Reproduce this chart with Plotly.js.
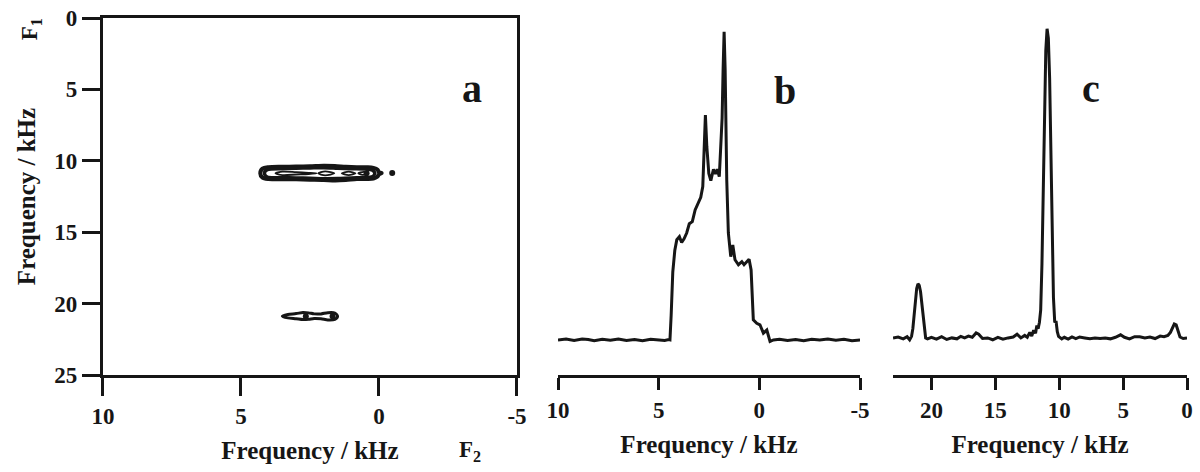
<!DOCTYPE html>
<html>
<head>
<meta charset="utf-8">
<script src="https://cdn.plot.ly/plotly-3.0.1.min.js"></script>
<style>
  html, body { margin: 0; padding: 0; background: #fff; }
  #chart { width: 1200px; height: 472px; }
</style>
</head>
<body>
<div id="chart"></div>
<script>
// ---- panel a: 2D contour map (F2 vs F1, kHz), outlines ----
const mainOuterF2 = [4.30, 4.22, 4.00, 3.50, 3.00, 2.50, 2.00, 1.60, 1.20, 0.80, 0.40, 0.20, 0.05, 0.00, -0.10, 0.00, 0.05, 0.20, 0.40, 0.80, 1.20, 1.60, 2.00, 2.50, 3.00, 3.50, 4.00, 4.22, 4.30];
const mainOuterF1 = [10.88, 10.55, 10.45, 10.42, 10.40, 10.38, 10.34, 10.36, 10.42, 10.45, 10.45, 10.50, 10.62, 10.80, 10.86, 10.94, 11.10, 11.24, 11.28, 11.28, 11.35, 11.38, 11.34, 11.32, 11.30, 11.30, 11.28, 11.18, 10.88];
const mainMidF2 = [4.15, 4.05, 3.50, 3.00, 2.50, 2.00, 1.50, 1.00, 0.50, 0.25, 0.15, 0.25, 0.50, 1.00, 1.50, 2.00, 2.50, 3.00, 3.50, 4.05, 4.15];
const mainMidF1 = [10.88, 10.62, 10.55, 10.52, 10.50, 10.48, 10.52, 10.56, 10.58, 10.65, 10.88, 11.12, 11.18, 11.20, 11.24, 11.25, 11.22, 11.20, 11.18, 11.14, 10.88];
const mainInnerF2 = [3.75, 3.50, 3.00, 2.55, 2.25, 2.55, 3.00, 3.50, 3.75];
const mainInnerF1 = [10.88, 10.76, 10.80, 10.84, 10.88, 10.93, 10.96, 11.00, 10.88];
const crossF2 = [2.20, 1.95, 1.62, 1.95, 2.20];
const crossF1 = [10.88, 10.74, 10.88, 11.02, 10.88];
const ringAF2 = [1.35, 1.10, 0.85, 1.10, 1.35];
const ringAF1 = [10.88, 10.76, 10.88, 11.00, 10.88];
const ringBF2 = [0.75, 0.55, 0.38, 0.55, 0.75];
const ringBF1 = [10.88, 10.77, 10.88, 10.99, 10.88];
const lowOuterF2 = [3.50, 3.30, 3.00, 2.75, 2.55, 2.35, 2.10, 1.85, 1.60, 1.50, 1.60, 1.85, 2.10, 2.35, 2.55, 2.75, 3.00, 3.30, 3.50];
const lowOuterF1 = [20.88, 20.76, 20.70, 20.62, 20.65, 20.72, 20.72, 20.64, 20.66, 20.88, 21.10, 21.14, 21.06, 21.04, 21.10, 21.12, 21.06, 21.00, 20.88];
const dotF2 = [-0.48, 0.45, 2.65, 1.68];
const dotF1 = [10.86, 10.88, 20.88, 20.88];

// ---- panel b: F2 projection ----
const bF2 = [10.0, 9.6, 9.2, 8.8, 8.5, 8.2, 7.8, 7.4, 7.0, 6.6, 6.2, 5.8, 5.4, 5.0, 4.7, 4.5, 4.44, 4.38, 4.30, 4.20, 4.10, 3.97, 3.86, 3.74, 3.61, 3.48, 3.33, 3.19, 3.03, 2.91, 2.81, 2.75, 2.68, 2.61, 2.51, 2.41, 2.28, 2.18, 2.09, 1.99, 1.90, 1.85, 1.80, 1.75, 1.70, 1.67, 1.62, 1.54, 1.42, 1.32, 1.21, 1.04, 0.87, 0.76, 0.63, 0.51, 0.41, 0.36, 0.30, 0.13, -0.03, -0.20, -0.37, -0.53, -0.70, -1.0, -1.4, -1.8, -2.2, -2.6, -3.0, -3.4, -3.8, -4.2, -4.6, -5.0];
const bInt = [0.0, 0.3, -0.2, 0.3, 0.1, -0.3, 0.2, -0.1, 0.3, -0.2, 0.1, -0.3, 0.2, 0.0, -0.2, 0.1, 0.0, 8.0, 22.0, 29.0, 32.5, 33.5, 31.6, 32.8, 34.7, 37.7, 38.4, 42.2, 44.5, 46.3, 49.8, 62.8, 73.0, 62.8, 54.0, 51.7, 55.4, 53.9, 55.4, 53.0, 62.8, 72.0, 88.0, 100.0, 88.0, 73.7, 52.0, 34.7, 27.0, 30.8, 26.0, 24.4, 25.4, 24.4, 25.4, 26.2, 22.7, 14.0, 6.5, 5.4, 4.9, 2.2, 3.2, -0.5, 0.0, 0.2, -0.2, 0.1, -0.3, 0.2, 0.0, 0.3, -0.1, 0.2, -0.3, 0.0];

// ---- panel c: F1 projection ----
const cF1 = [23.0, 22.6, 22.2, 21.9, 21.7, 21.55, 21.45, 21.35, 21.25, 21.15, 21.05, 20.95, 20.85, 20.75, 20.65, 20.55, 20.45, 20.3, 20.0, 19.6, 19.2, 18.8, 18.4, 18.0, 17.7, 17.4, 17.1, 16.8, 16.5, 16.3, 16.0, 15.6, 15.2, 14.8, 14.4, 14.0, 13.6, 13.3, 13.0, 12.7, 12.5, 12.3, 12.15, 12.0, 11.85, 11.75, 11.65, 11.55, 11.45, 11.35, 11.25, 11.15, 11.05, 10.95, 10.85, 10.75, 10.65, 10.55, 10.45, 10.35, 10.25, 10.15, 10.05, 9.8, 9.6, 9.3, 9.0, 8.7, 8.4, 8.0, 7.6, 7.2, 6.8, 6.4, 6.0, 5.6, 5.2, 4.9, 4.5, 4.1, 3.7, 3.3, 2.9, 2.5, 2.1, 1.8, 1.5, 1.3, 1.15, 1.0, 0.85, 0.7, 0.55, 0.3, 0.0];
const cInt = [0.0, 0.3, -0.3, 0.4, -0.6, 0.5, 3.0, 8.0, 13.0, 16.0, 17.5, 17.0, 15.0, 11.0, 6.0, 2.0, 0.0, -0.3, 0.2, -0.4, 0.4, -0.5, 0.0, -0.3, 0.5, 0.0, 0.6, 0.2, 1.6, 1.2, -0.2, 0.0, -0.6, 0.2, -0.4, 0.0, 0.3, 1.2, 0.0, 0.8, 0.2, 1.8, 0.6, 2.5, 1.5, 4.0, 3.0, 5.0, 9.0, 24.0, 50.0, 76.0, 93.0, 100.0, 97.0, 84.0, 62.0, 36.0, 13.0, 5.0, 5.5, 2.0, 0.5, -0.3, 0.2, -0.4, 0.3, -0.2, 0.3, 0.0, -0.3, 0.0, -0.2, 0.0, -0.3, 0.2, 1.0, 0.2, -0.3, 0.4, 0.4, 0.0, 0.3, -0.2, 0.6, 0.4, 0.8, 1.8, 3.5, 4.5, 4.2, 2.0, 0.3, -0.2, 0.0];

const ink = '#161616';
const serif = 'Liberation Serif, Times New Roman, serif';
const tickFont = { family: serif, size: 23, color: ink, weight: 'bold' };
const titleFont = { family: serif, size: 25, color: ink, weight: 'bold' };
const labelFont = { family: serif, size: 40, color: ink, weight: 'bold' };

function ring(xs, ys, w) {
  return { x: xs, y: ys, xaxis: 'x', yaxis: 'y', type: 'scatter', mode: 'lines',
           line: { color: ink, width: w, shape: 'spline', smoothing: 0.8 }, hoverinfo: 'skip' };
}

const traces = [
  ring(mainOuterF2, mainOuterF1, 4),
  ring(mainMidF2, mainMidF1, 3.5),
  ring(mainInnerF2, mainInnerF1, 1.8),
  ring(crossF2, crossF1, 1.8),
  ring(ringAF2, ringAF1, 1.8),
  ring(ringBF2, ringBF1, 1.8),
  ring(lowOuterF2, lowOuterF1, 3),
  { x: dotF2, y: dotF1, xaxis: 'x', yaxis: 'y', type: 'scatter', mode: 'markers',
    marker: { color: ink, size: 6 } },
  { x: bF2, y: bInt, xaxis: 'x2', yaxis: 'y2', type: 'scatter', mode: 'lines',
    line: { color: ink, width: 3 } },
  { x: cF1, y: cInt, xaxis: 'x3', yaxis: 'y3', type: 'scatter', mode: 'lines',
    line: { color: ink, width: 3 } }
];

const baseX = {
  showgrid: false, zeroline: false, showline: true, linecolor: ink, linewidth: 3,
  ticks: 'outside', tickcolor: ink, tickwidth: 3, tickfont: tickFont, fixedrange: true
};

const layout = {
  width: 1200, height: 472,
  margin: { l: 0, r: 0, t: 18, b: 97 },
  paper_bgcolor: 'white', plot_bgcolor: 'white',
  showlegend: false,
  xaxis: Object.assign({}, baseX, {
    domain: [0.0858, 0.4308], anchor: 'y', range: [10, -5],
    tickvals: [10, 5, 0, -5], ticktext: ['10', '5', '0', '-5'],
    ticklen: 18, mirror: true,
    title: { text: 'Frequency / kHz', font: titleFont, standoff: 14 }
  }),
  yaxis: Object.assign({}, baseX, {
    domain: [0, 1], anchor: 'x', range: [25, 0], tickvals: [0, 5, 10, 15, 20, 25],
    ticklen: 18, mirror: true,
    title: { text: 'Frequency / kHz', font: titleFont, standoff: 12 }
  }),
  xaxis2: Object.assign({}, baseX, {
    domain: [0.465, 0.7167], anchor: 'y2', range: [10, -5],
    tickvals: [10, 5, 0, -5], ticktext: ['10', '5', '0', '-5'],
    ticklen: 12,
    title: { text: 'Frequency / kHz', font: titleFont, standoff: 14 }
  }),
  yaxis2: { domain: [0, 1], anchor: 'x2', range: [-11.4, 104.5], visible: false, fixedrange: true },
  xaxis3: Object.assign({}, baseX, {
    domain: [0.7442, 0.9892], anchor: 'y3', range: [23, 0], tickvals: [20, 15, 10, 5, 0],
    ticklen: 12,
    title: { text: 'Frequency / kHz', font: titleFont, standoff: 14 }
  }),
  yaxis3: { domain: [0, 1], anchor: 'x3', range: [-12.0, 103.5], visible: false, fixedrange: true },
  annotations: [
    { text: 'a', xref: 'paper', yref: 'paper', x: 0.393, y: 0.872, showarrow: false, font: labelFont },
    { text: 'b', xref: 'paper', yref: 'paper', x: 0.654, y: 0.866, showarrow: false, font: labelFont },
    { text: 'c', xref: 'paper', yref: 'paper', x: 0.918, y: 0.872, showarrow: false, font: labelFont },
    { text: 'F<sub>1</sub>', xref: 'paper', yref: 'paper', x: 0.0123, y: 1.004, showarrow: false,
      textangle: -90, font: { family: serif, size: 23, color: ink, weight: 'bold' } },
    { text: 'F<sub>2</sub>', xref: 'paper', yref: 'paper', x: 0.392, y: -0.258, showarrow: false,
      font: { family: serif, size: 23, color: ink, weight: 'bold' } }
  ]
};

Plotly.newPlot('chart', traces, layout, { displayModeBar: false, staticPlot: true });
</script>
</body>
</html>
